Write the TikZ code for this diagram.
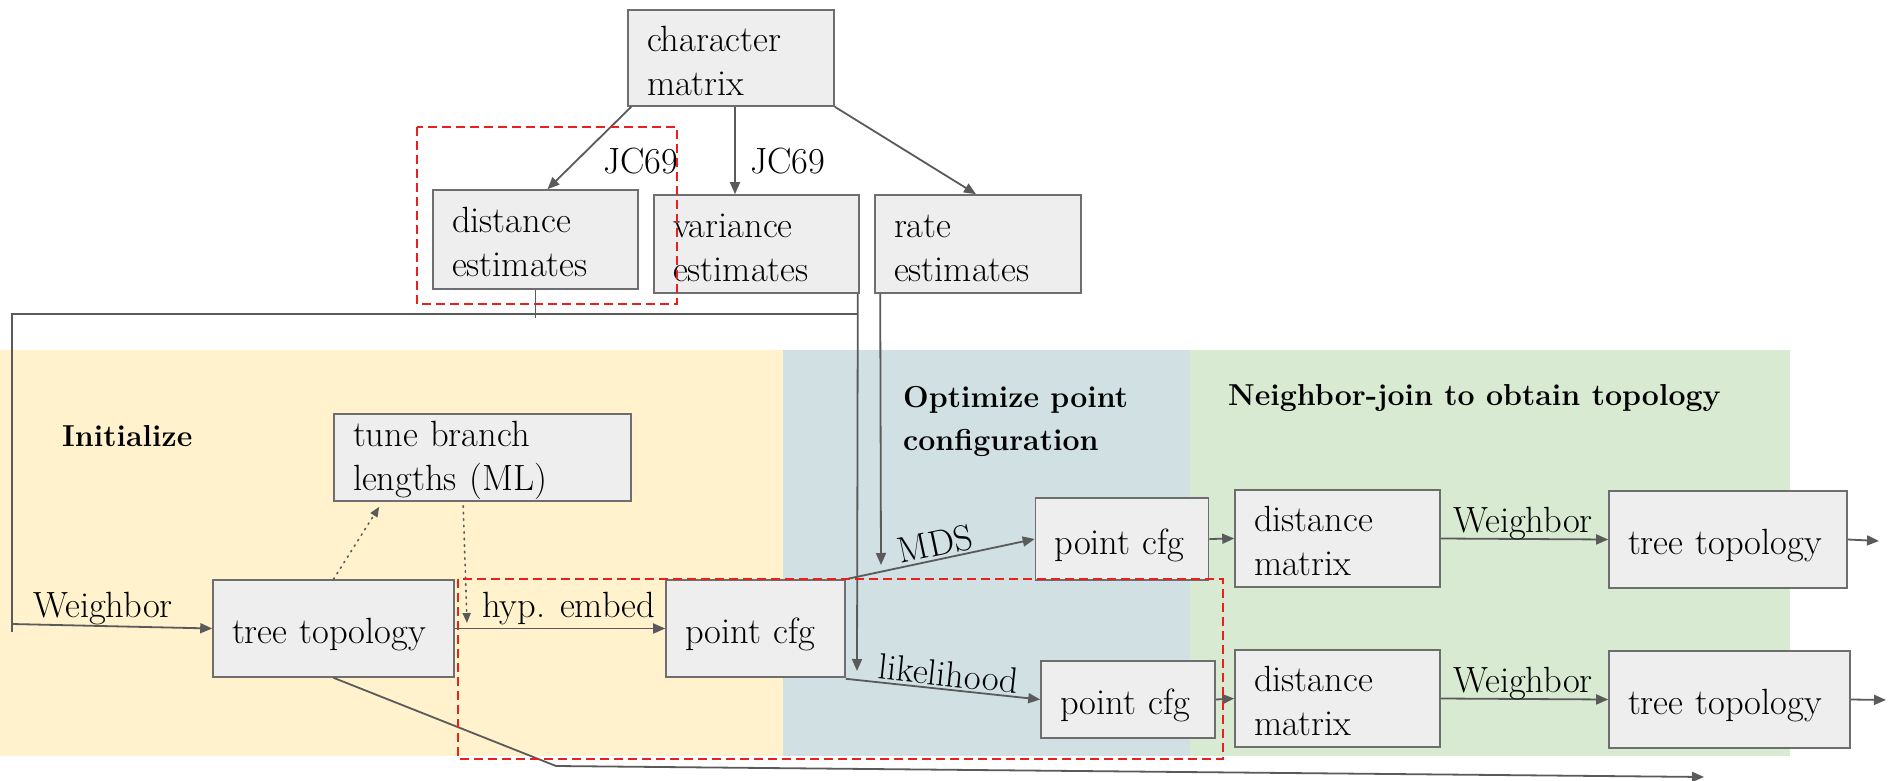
\documentclass[tikz,border=0pt]{standalone}
\usepackage{fontspec}
\usetikzlibrary{arrows.meta,calc}
\definecolor{boxfill}{HTML}{EEEEEE}
\definecolor{boxdraw}{HTML}{6E6E6E}
\definecolor{linec}{HTML}{5A5A5A}
\definecolor{redd}{HTML}{E8201E}
\definecolor{ybg}{HTML}{FFF2CC}
\definecolor{bbg}{HTML}{D0E0E3}
\definecolor{gbg}{HTML}{D9EAD3}
\newcommand\mystrutA{\rule{0pt}{38pt}}
\newcommand\mystrutB{\rule{0pt}{31pt}}
\begin{document}
\begin{tikzpicture}[x=1pt,y=-1pt,
  font=\fontsize{36.5}{44}\selectfont,
  box/.style={draw=boxdraw, line width=1.6pt, fill=boxfill, inner xsep=19pt, inner ysep=0pt, align=left},
  ttl/.style={font=\fontsize{30.3}{44}\selectfont\bfseries, anchor=base west, inner sep=0pt},
  lbl/.style={inner sep=0pt, anchor=base west},
  conn/.style={draw=linec, line width=1.8pt},
  arr/.style={conn, -{Triangle[length=12pt,width=10pt]}},
  dots/.style={draw=linec, line width=1.6pt, dash pattern=on 1.5pt off 5pt, line cap=round, -{Triangle[length=10pt,width=8pt]}},
  reddash/.style={draw=redd, line width=2pt, dash pattern=on 9pt off 5pt}]
\useasboundingbox (0,0) rectangle (1888,781);
% backgrounds
\fill[ybg] (0,350) rectangle (783,756);
\fill[bbg] (783,350) rectangle (1190,756);
\fill[gbg] (1190,350) rectangle (1790,756);
% titles
\node[ttl] (t1) at (62,446) {Initialize};
\node[ttl] (t2a) at (903,407) {Optimize point};
\node[ttl] (t2b) at (903,450) {configuration};
\node[ttl] (t3) at (1228,405) {Neighbor-join to obtain topology};
% boxes
\node[box, text width=168pt, minimum height=96pt] (charmat) at (731,58) {\mystrutB character\\matrix};
\node[box, text width=167pt, minimum height=99pt] (dist) at (535.5,239.5) {\mystrutB distance\\estimates};
\node[box, text width=167pt, minimum height=98pt] (var) at (756.5,244) {\mystrutB variance\\estimates};
\node[box, text width=168pt, minimum height=98pt] (rate) at (978,244) {\mystrutB rate\\estimates};
\node[box, text width=259pt, minimum height=87pt] (tune) at (482.5,457.5) {\mystrutB tune branch\\lengths (ML)};
\node[box, text width=203pt, minimum height=97pt] (treeL) at (333.5,628.5) {\mystrutA tree topology};
\node[box, text width=141pt, minimum height=97pt] (pcL) at (755.5,628.5) {\mystrutA point cfg};
\node[box, text width=135pt, minimum height=82pt] (pcM) at (1122,539) {\mystrutA point cfg};
\node[box, text width=136pt, minimum height=77pt] (pcLik) at (1128,699.5) {\mystrutA point cfg};
\node[box, text width=167pt, minimum height=97pt] (dmT) at (1337.5,538.5) {\mystrutB distance\\matrix};
\node[box, text width=167pt, minimum height=97pt] (dmB) at (1337.5,698.5) {\mystrutB distance\\matrix};
\node[box, text width=200pt, minimum height=97pt] (ttT) at (1728,539.5) {\mystrutA tree topology};
\node[box, text width=203pt, minimum height=97pt] (ttB) at (1729.5,699.5) {\mystrutA tree topology};
% coordinates
\coordinate (junc) at (857,314);
\coordinate (loopL) at (12,314);
\coordinate (loopB) at (12,632);
\coordinate (wstart) at (12,624);
\coordinate (likin) at (857,671);
\coordinate (mdsin) at (881,565);
\coordinate (bend) at (556,766);
\coordinate (bout) at (1704,777);
\coordinate (outT) at (1879,541);
\coordinate (outB) at (1886,700);
\coordinate (distend) at (535.5,318);
\coordinate (hypin) at (467,623);
% connectors
\draw[arr] ([xshift=4pt]charmat.south west) -- ([xshift=12pt]dist.north);
\draw[arr] ([xshift=4pt]charmat.south) -- ([xshift=4pt]charmat.south |- var.north);
\draw[arr] (charmat.south east) -- ([xshift=-2pt]rate.north);
\node[lbl] (jc1) at (603,173) {JC69};
\node[lbl] (jc2) at (750,173) {JC69};
\draw[conn] (dist.south) -- (distend);
\draw[conn] (junc) -- (loopL) -- (loopB);
\draw[arr] ([xshift=-2pt]var.south east) -- (likin);
\draw[arr] ([xshift=6pt]rate.south west) -- (mdsin);
\draw[arr] (wstart) -- (treeL.west);
\node[lbl] (wl) at (33,617) {Weighbor};
\draw[arr] (treeL.east) -- (pcL.west);
\node[lbl] (hyp) at (482,617) {hyp. embed};
\draw[dots] (treeL.north) -- ([xshift=46pt,yshift=-5pt]tune.south west);
\draw[dots] ([xshift=130pt,yshift=-4pt]tune.south west) -- (hypin);
\draw[arr] (pcL.north east) -- node[pos=0.49, sloped, above, inner sep=2pt] {MDS} (pcM.west);
\draw[arr] ([yshift=-1pt]pcL.south east) -- node[pos=0.52, sloped, above, inner sep=2pt] {likelihood} (pcLik.west);
\draw[arr] (pcM.east) -- (dmT.west);
\draw[arr] (pcLik.east) -- (dmB.west);
\draw[arr] (dmT.east) -- (ttT.west);
\node[lbl] (w2) at (1453,532) {Weighbor};
\draw[arr] (dmB.east) -- (ttB.west);
\node[lbl] (w3) at (1453,692) {Weighbor};
\draw[arr] (ttT.east) -- (outT);
\draw[arr] (ttB.east) -- (outB);
\draw[arr] (treeL.south) -- (bend) -- (bout);
% red dashed groups
\draw[reddash] (417,127) rectangle (677,304);
\draw[reddash] (458,579) rectangle (1223,759);
\end{tikzpicture}
\end{document}
